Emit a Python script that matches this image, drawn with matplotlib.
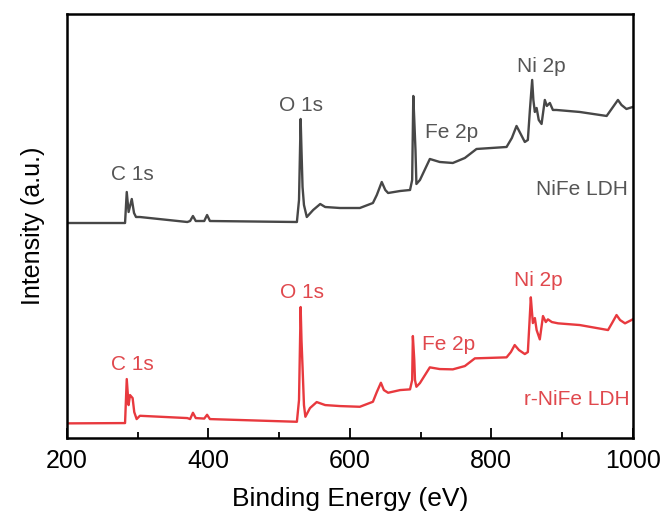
import numpy as np
import matplotlib.pyplot as plt

plt.rcParams['font.family'] = ['Liberation Sans', 'DejaVu Sans']

# NiFe LDH survey (binding energy in eV, intensity a.u.)
be_nife = [200, 282, 284.4, 287, 291.5, 294.7, 297.5, 303, 370, 374, 378, 382, 394, 398, 402,
           525, 528, 530.3, 531.5, 533, 535, 539, 548, 558, 565, 586, 614, 632.5, 638, 645, 650,
           654, 671, 685, 688, 689.6, 691, 692.7, 694, 699, 713, 727, 745.5, 762.5, 779, 821.5,
           829, 835.6, 840, 847.3, 851.6, 854.5, 857.7, 859.4, 861.5, 864, 867, 871, 875.6,
           878.5, 882.7, 887, 892, 925, 963, 971, 979, 984, 991, 1000]
int_nife = [215, 215, 246, 226, 239, 225, 221, 221, 216, 217, 222, 217, 217, 223, 217,
            216, 238, 319, 288, 251, 233, 221, 228, 234, 231, 230, 230, 235, 243, 256, 248,
            245, 247, 248, 258, 342, 318, 288, 254, 258, 279, 276, 275, 280, 289, 291,
            300, 312, 306, 296, 298, 328, 358, 338, 326, 330, 318, 314, 338,
            332, 335, 328, 328, 326, 322, 330, 338, 333, 329, 331]

# r-NiFe LDH survey
be_rnife = [200, 282, 284.4, 287, 289, 292.7, 295, 298.4, 303, 370, 374, 378, 382, 394, 398, 402,
            525, 528, 530.3, 531.5, 533, 535, 537, 543.5, 553, 565, 586, 614, 632.5, 638, 643.8,
            648, 654, 671, 685, 688, 689, 691, 692, 694, 699, 713, 727, 745.5, 762.5, 776.7,
            821.5, 827.6, 833, 839, 847.3, 851.6, 853.7, 855.8, 857.2, 858.7, 861.5, 864, 868.5,
            873, 877, 880, 885.5, 894.4, 925, 965, 970.7, 977, 982, 989, 1000]
int_rnife = [14.7, 15, 59, 33, 43, 40, 26, 19, 22.3, 20, 19, 25.3, 20, 19.5, 23.3, 19,
             16.3, 38, 131, 98, 71, 33, 21.3, 30, 36, 33, 32, 31.3, 36.3, 46, 55.3,
             48, 45.3, 48, 48.7, 58, 102, 78, 58, 51.3, 55, 70.7, 69, 68.7, 72, 79.7,
             80.7, 86, 93, 88, 84, 86, 113, 140.7, 128, 115, 120, 108, 98.7,
             122, 116, 118.7, 116, 114.7, 113, 108, 115, 123, 118, 114.7, 118.7]

peaks = ['C 1s', 'O 1s', 'Fe 2p', 'Ni 2p']
lab_x_nife = [293, 531, 744, 871]
lab_y_nife = [263, 332, 305, 371]
lab_x_rnife = [293, 532, 740, 866]
lab_y_rnife = [74, 146, 94, 158]

gray = '#474747'
red = '#e8393e'

fig = plt.figure(figsize=(6.64, 5.16), dpi=100)
ax = fig.add_axes([0.101, 0.151, 0.852, 0.822])

ax.plot(be_nife, int_nife, color=gray, lw=1.7)
ax.plot(be_rnife, int_rnife, color=red, lw=1.7)

for name, x, y in zip(peaks, lab_x_nife, lab_y_nife):
    ax.text(x, y, name, color='#555555', fontsize=15, ha='center', va='center')
for name, x, y in zip(peaks, lab_x_rnife, lab_y_rnife):
    ax.text(x, y, name, color='#e0484d', fontsize=15, ha='center', va='center')
ax.text(993, 248, 'NiFe LDH', color='#555555', fontsize=15, ha='right', va='center')
ax.text(996, 39, 'r-NiFe LDH', color='#e0484d', fontsize=15, ha='right', va='center')

ax.set_xlim(200, 1000)
ax.set_ylim(0, 424)
ax.set_xticks([200, 400, 600, 800, 1000])
ax.set_xticks([300, 500, 700, 900], minor=True)
ax.set_yticks([])
ax.tick_params(axis='x', which='major', direction='in', length=7, width=1.3, labelsize=18, pad=8)
ax.tick_params(axis='x', which='minor', direction='in', length=4, width=1.3)
for s in ax.spines.values():
    s.set_linewidth(1.8)

ax.set_xlabel('Binding Energy (eV)', fontsize=19, labelpad=10)
ax.set_ylabel('Intensity (a.u.)', fontsize=18, labelpad=16)

fig.savefig('out.png', dpi=100)
